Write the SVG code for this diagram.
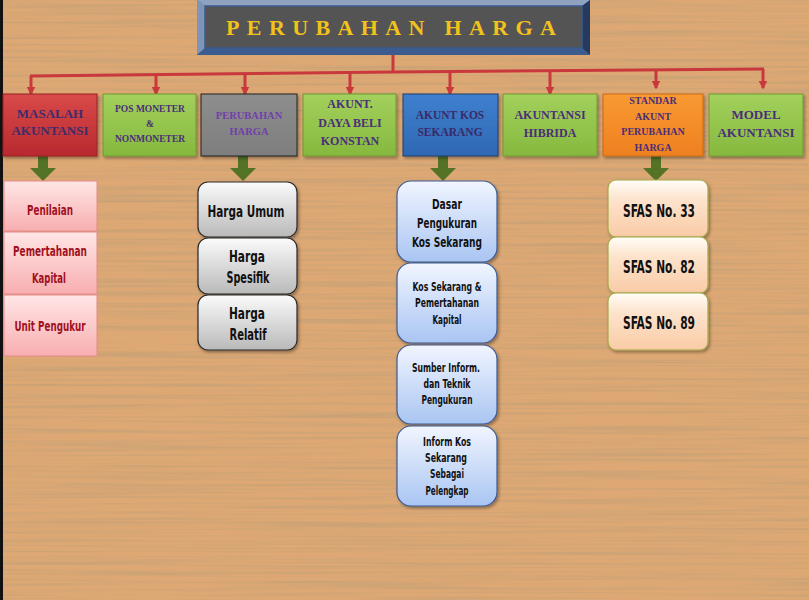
<svg xmlns="http://www.w3.org/2000/svg" width="809" height="600" viewBox="0 0 809 600">
<defs>
<filter id="wood" x="0" y="0" width="809" height="600" filterUnits="userSpaceOnUse">
<feTurbulence type="fractalNoise" baseFrequency="0.004 0.32" numOctaves="3" seed="7" result="n"/>
<feColorMatrix in="n" type="matrix" values="0 0 0 0 0.58  0 0 0 0 0.36  0 0 0 0 0.18  2.4 0 0 0 -1.0"/>
</filter>
<filter id="sh" x="-10%" y="-10%" width="125%" height="130%">
<feDropShadow dx="1.5" dy="2" stdDeviation="1.5" flood-color="#000" flood-opacity="0.35"/>
</filter>
<linearGradient id="gRed" x1="0" y1="0" x2="0" y2="1"><stop offset="0" stop-color="#D94A4A"/><stop offset="1" stop-color="#B8292E"/></linearGradient>
<linearGradient id="gGreen" x1="0" y1="0" x2="0" y2="1"><stop offset="0" stop-color="#A2D15C"/><stop offset="1" stop-color="#86B83E"/></linearGradient>
<linearGradient id="gGrey" x1="0" y1="0" x2="0" y2="1"><stop offset="0" stop-color="#8E8E8E"/><stop offset="1" stop-color="#7E7E7E"/></linearGradient>
<linearGradient id="gBlue" x1="0" y1="0" x2="0" y2="1"><stop offset="0" stop-color="#3F80CF"/><stop offset="1" stop-color="#2F68B4"/></linearGradient>
<linearGradient id="gOrange" x1="0" y1="0" x2="0" y2="1"><stop offset="0" stop-color="#F99A32"/><stop offset="1" stop-color="#EE8020"/></linearGradient>
<linearGradient id="gPink" x1="0" y1="0" x2="0" y2="1"><stop offset="0" stop-color="#FFE6E6"/><stop offset="1" stop-color="#F8AEB0"/></linearGradient>
<linearGradient id="gSilver" x1="0" y1="0" x2="0" y2="1"><stop offset="0" stop-color="#FBFBFB"/><stop offset="1" stop-color="#B9B9B9"/></linearGradient>
<linearGradient id="gLBlue" x1="0" y1="0" x2="0" y2="1"><stop offset="0" stop-color="#F1F5FF"/><stop offset="1" stop-color="#A9C5F2"/></linearGradient>
<linearGradient id="gPeach" x1="0" y1="0" x2="0" y2="1"><stop offset="0" stop-color="#FFFDF8"/><stop offset="0.35" stop-color="#FDE3CC"/><stop offset="1" stop-color="#F9CBA6"/></linearGradient>
<marker id="ra" viewBox="0 0 6 6" refX="5" refY="3" markerWidth="3" markerHeight="3" orient="auto"><path d="M0,0 L6,3 L0,6 z" fill="#C8383C"/></marker>
</defs>
<style>
.top{stroke-width:1;filter:url(#sh)}
.tt{font-family:"Liberation Serif","Times New Roman",serif;font-weight:bold;text-anchor:middle}
.nar{font-family:"DejaVu Sans","Liberation Sans",sans-serif;font-stretch:condensed;font-weight:bold;text-anchor:middle}
.pink{fill:url(#gPink);stroke:#E58A8A;stroke-width:1}
.silver{fill:url(#gSilver);stroke:#2A2A2A;stroke-width:1.2;filter:url(#sh)}
.lblue{fill:url(#gLBlue);stroke:#3C5A92;stroke-width:1.2;filter:url(#sh)}
.peach{fill:url(#gPeach);stroke:#A3A848;stroke-width:1.2;filter:url(#sh)}
.red{stroke:#C8383C;stroke-width:3;fill:none}
.garrow{fill:#547326}
</style>
<rect x="0" y="0" width="809" height="600" fill="#DEA874"/>
<rect x="0" y="0" width="809" height="600" filter="url(#wood)"/>
<rect x="0" y="0" width="3" height="600" fill="#111"/>

<g id="title">
<rect x="197" y="0" width="393" height="55" fill="#4A6A9C"/>
<polygon points="197,0 590,0 582,6 205,6" fill="#8FA2C2"/>
<polygon points="197,0 205,6 205,48 197,55" fill="#7E94B8"/>
<polygon points="590,0 590,55 582,48 582,6" fill="#263A5E"/>
<polygon points="197,55 590,55 582,48 205,48" fill="#3C5C90"/>
<rect x="205" y="6" width="377" height="42" fill="#545454" stroke="#3B5B8E" stroke-width="1.5"/>
<text x="226" y="35" textLength="330" lengthAdjust="spacing" font-family="Liberation Serif,serif" font-weight="bold" font-size="22" fill="#F3C21A">PERUBAHAN HARGA</text>
</g>

<g id="connectors">
<path class="red" d="M393,55 V73"/>
<path class="red" d="M30,76 L393,72 L764,69"/>
<path class="red" d="M31,76 V94" marker-end="url(#ra)"/>
<path class="red" d="M156,75 V94" marker-end="url(#ra)"/>
<path class="red" d="M245,74 V94" marker-end="url(#ra)"/>
<path class="red" d="M350,73 V94" marker-end="url(#ra)"/>
<path class="red" d="M450,72 V94" marker-end="url(#ra)"/>
<path class="red" d="M550,71 V94" marker-end="url(#ra)"/>
<path class="red" d="M656,70 V88" marker-end="url(#ra)"/>
<path class="red" d="M763,69 V88" marker-end="url(#ra)"/>
<polygon class="garrow" points="38,156 48,156 48,168 56,168 43,181 30,168 38,168"/>
<polygon class="garrow" points="238,156 248,156 248,168 256,168 243,181 230,168 238,168"/>
<polygon class="garrow" points="438,156 448,156 448,168 456,168 443,181 430,168 438,168"/>
<polygon class="garrow" points="651,156 661,156 661,168 669,168 656,181 643,168 651,168"/>
</g>

<g id="n-masalah">
<rect class="top" x="3" y="94" width="94" height="62" fill="url(#gRed)" stroke="#9A2020"/>
<text class="tt" x="50" y="118" font-size="13" fill="#3E2C6C">MASALAH</text>
<text class="tt" x="50" y="135" font-size="13" fill="#3E2C6C">AKUNTANSI</text>
</g>
<g id="n-pos">
<rect class="top" x="103" y="94" width="93" height="62" fill="url(#gGreen)" stroke="#6E9A30"/>
<text class="tt" x="150" y="112" font-size="9.5" fill="#4A2E7A">POS MONETER</text>
<text class="tt" x="150" y="127" font-size="9.5" fill="#4A2E7A">&amp;</text>
<text class="tt" x="150" y="142" font-size="9.5" fill="#4A2E7A">NONMONETER</text>
</g>
<g id="n-perubahan">
<rect class="top" x="201" y="94" width="96" height="62" fill="url(#gGrey)" stroke="#222" stroke-width="1.5"/>
<text class="tt" x="249" y="119" font-size="10.5" fill="#7040A8">PERUBAHAN</text>
<text class="tt" x="249" y="135" font-size="10.5" fill="#7040A8">HARGA</text>
</g>
<g id="n-daya">
<rect class="top" x="303" y="94" width="93" height="62" fill="url(#gGreen)" stroke="#6E9A30"/>
<text class="tt" x="350" y="108" font-size="12" fill="#4A2E7A">AKUNT.</text>
<text class="tt" x="350" y="127" font-size="12" fill="#4A2E7A">DAYA BELI</text>
<text class="tt" x="350" y="145" font-size="12" fill="#4A2E7A">KONSTAN</text>
</g>
<g id="n-kos">
<rect class="top" x="403" y="94" width="95" height="62" fill="url(#gBlue)" stroke="#1F3C68"/>
<text class="tt" x="450" y="119" font-size="11.5" fill="#3A2A66">AKUNT KOS</text>
<text class="tt" x="450" y="136" font-size="11.5" fill="#3A2A66">SEKARANG</text>
</g>
<g id="n-hibrida">
<rect class="top" x="503" y="94" width="94" height="62" fill="url(#gGreen)" stroke="#6E9A30"/>
<text class="tt" x="550" y="119" font-size="12" fill="#4A2E7A">AKUNTANSI</text>
<text class="tt" x="550" y="137" font-size="12" fill="#4A2E7A">HIBRIDA</text>
</g>
<g id="n-standar">
<rect class="top" x="603" y="94" width="100" height="62" fill="url(#gOrange)" stroke="#C86A10"/>
<text class="tt" x="653" y="104" font-size="10" fill="#4A2E7A">STANDAR</text>
<text class="tt" x="653" y="120" font-size="10" fill="#4A2E7A">AKUNT</text>
<text class="tt" x="653" y="135" font-size="10" fill="#4A2E7A">PERUBAHAN</text>
<text class="tt" x="653" y="151" font-size="10" fill="#4A2E7A">HARGA</text>
</g>
<g id="n-model">
<rect class="top" x="709" y="94" width="94" height="62" fill="url(#gGreen)" stroke="#6E9A30"/>
<text class="tt" x="756" y="119" font-size="13" fill="#4A2E7A">MODEL</text>
<text class="tt" x="756" y="137" font-size="13" fill="#4A2E7A">AKUNTANSI</text>
</g>

<g id="n-penilaian">
<rect class="pink" x="4" y="181" width="93" height="50"/>
<text class="nar" x="50" y="215" font-size="14" fill="#A0101E" textLength="46" lengthAdjust="spacingAndGlyphs">Penilaian</text>
</g>
<g id="n-pemertahanan">
<rect class="pink" x="4" y="232" width="93" height="62"/>
<text class="nar" x="50" y="256" font-size="14" fill="#A0101E" textLength="74" lengthAdjust="spacingAndGlyphs">Pemertahanan</text>
<text class="nar" x="49" y="283" font-size="14" fill="#A0101E" textLength="34" lengthAdjust="spacingAndGlyphs">Kapital</text>
</g>
<g id="n-unit">
<rect class="pink" x="4" y="295" width="93" height="61"/>
<text class="nar" x="50" y="331" font-size="14" fill="#A0101E" textLength="71" lengthAdjust="spacingAndGlyphs">Unit Pengukur</text>
</g>

<g id="n-umum">
<rect class="silver" x="198" y="182" width="99" height="55" rx="10"/>
<text class="nar" x="246" y="217" font-size="16" fill="#111" textLength="77" lengthAdjust="spacingAndGlyphs">Harga Umum</text>
</g>
<g id="n-spesifik">
<rect class="silver" x="198" y="238" width="99" height="56" rx="10"/>
<text class="nar" x="247" y="262" font-size="16" fill="#111" textLength="36" lengthAdjust="spacingAndGlyphs">Harga</text>
<text class="nar" x="248" y="283" font-size="16" fill="#111" textLength="43" lengthAdjust="spacingAndGlyphs">Spesifik</text>
</g>
<g id="n-relatif">
<rect class="silver" x="198" y="295" width="99" height="55" rx="10"/>
<text class="nar" x="247" y="319" font-size="16" fill="#111" textLength="36" lengthAdjust="spacingAndGlyphs">Harga</text>
<text class="nar" x="248" y="340" font-size="16" fill="#111" textLength="37" lengthAdjust="spacingAndGlyphs">Relatif</text>
</g>

<g id="n-dasar">
<rect class="lblue" x="397" y="181" width="100" height="81" rx="14"/>
<text class="nar" x="447" y="209" font-size="14" fill="#111" textLength="30" lengthAdjust="spacingAndGlyphs">Dasar</text>
<text class="nar" x="447" y="228" font-size="14" fill="#111" textLength="60" lengthAdjust="spacingAndGlyphs">Pengukuran</text>
<text class="nar" x="447" y="247" font-size="14" fill="#111" textLength="70" lengthAdjust="spacingAndGlyphs">Kos Sekarang</text>
</g>
<g id="n-kospem">
<rect class="lblue" x="397" y="263" width="100" height="80" rx="14"/>
<text class="nar" x="447" y="291" font-size="11.5" fill="#111" textLength="69" lengthAdjust="spacingAndGlyphs">Kos Sekarang  &amp;</text>
<text class="nar" x="447" y="307" font-size="11.5" fill="#111" textLength="64" lengthAdjust="spacingAndGlyphs">Pemertahanan</text>
<text class="nar" x="447" y="324" font-size="11.5" fill="#111" textLength="29" lengthAdjust="spacingAndGlyphs">Kapital</text>
</g>
<g id="n-sumber">
<rect class="lblue" x="397" y="345" width="100" height="79" rx="14"/>
<text class="nar" x="446" y="372" font-size="11.5" fill="#111" textLength="68" lengthAdjust="spacingAndGlyphs">Sumber Inform.</text>
<text class="nar" x="447" y="388" font-size="11.5" fill="#111" textLength="47" lengthAdjust="spacingAndGlyphs">dan Teknik</text>
<text class="nar" x="447" y="404" font-size="11.5" fill="#111" textLength="51" lengthAdjust="spacingAndGlyphs">Pengukuran</text>
</g>
<g id="n-inform">
<rect class="lblue" x="397" y="426" width="100" height="80" rx="14"/>
<text class="nar" x="447" y="446" font-size="11.5" fill="#111" textLength="48" lengthAdjust="spacingAndGlyphs">Inform Kos</text>
<text class="nar" x="446" y="462" font-size="11.5" fill="#111" textLength="42" lengthAdjust="spacingAndGlyphs">Sekarang</text>
<text class="nar" x="447" y="478" font-size="11.5" fill="#111" textLength="34" lengthAdjust="spacingAndGlyphs">Sebagai</text>
<text class="nar" x="447" y="495" font-size="11.5" fill="#111" textLength="43" lengthAdjust="spacingAndGlyphs">Pelengkap</text>
</g>

<g id="n-sfas33">
<rect class="peach" x="608" y="180" width="100" height="57" rx="8"/>
<text class="nar" x="659" y="217" font-size="17" fill="#111" textLength="72" lengthAdjust="spacingAndGlyphs">SFAS No. 33</text>
</g>
<g id="n-sfas82">
<rect class="peach" x="608" y="237" width="100" height="56" rx="8"/>
<text class="nar" x="659" y="273" font-size="17" fill="#111" textLength="72" lengthAdjust="spacingAndGlyphs">SFAS No. 82</text>
</g>
<g id="n-sfas89">
<rect class="peach" x="608" y="293" width="100" height="57" rx="8"/>
<text class="nar" x="659" y="329" font-size="17" fill="#111" textLength="72" lengthAdjust="spacingAndGlyphs">SFAS No. 89</text>
</g>
</svg>
